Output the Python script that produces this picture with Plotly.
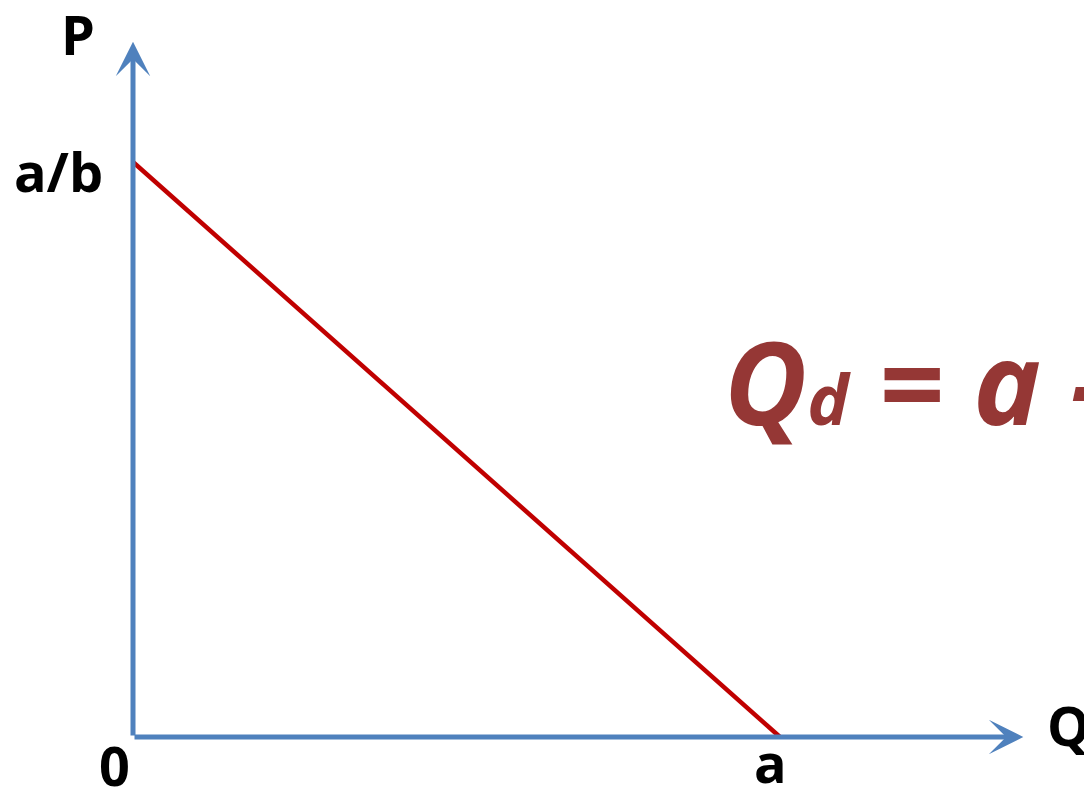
import plotly.graph_objects as go

# demand line endpoints (intercepts): Q = a at P = 0, P = a/b at Q = 0
a = 10.0
b = 1.0
demand_q = [0.0, a]
demand_p = [a / b, 0.0]

# axis extents (arrow tips)
q_max = 13.76
p_max = 12.09

axis_blue = "#4F81BD"
line_red = "#C00000"
eq_red = "#953735"
label_font = dict(family="Open Sans", size=54, color="black", weight="bold")

fig = go.Figure()

fig.add_trace(go.Scatter(
    x=demand_q, y=demand_p,
    mode="lines",
    line=dict(color=line_red, width=4.5),
    hoverinfo="skip",
    showlegend=False,
))

# axes drawn as arrows from the origin
for tip_x, tip_y in [(q_max, 0.0), (0.0, p_max)]:
    fig.add_annotation(
        x=tip_x, y=tip_y, ax=0, ay=0,
        xref="x", yref="y", axref="x", ayref="y",
        text="", showarrow=True,
        arrowhead=3, arrowsize=1.15, arrowwidth=5, arrowcolor=axis_blue,
    )

labels = [
    ("P", -0.85, 12.23, "center"),
    ("a/b", -0.43, 9.84, "right"),
    ("0", -0.28, -0.49, "center"),
    ("a", 9.86, -0.43, "center"),
    ("Q", 14.1, 0.21, "left"),
]
for txt, lx, ly, anchor in labels:
    fig.add_annotation(
        x=lx, y=ly, xref="x", yref="y",
        text=txt, showarrow=False,
        xanchor=anchor, yanchor="middle",
        font=label_font,
    )

fig.add_annotation(
    x=9.1, y=6.2, xref="x", yref="y",
    text="Q<span style='font-size:70px'>d</span> = a - bP", showarrow=False,
    xanchor="left", yanchor="middle",
    font=dict(family="Open Sans", size=114, color=eq_red, weight="bold", style="italic"),
)

# page body has an 8px margin, so the figure is 8px smaller than the window
fig.update_layout(
    width=1084, height=782,
    margin=dict(l=0, r=0, t=0, b=0),
    paper_bgcolor="white",
    plot_bgcolor="white",
    xaxis=dict(range=[-1.932, 14.822], visible=False, fixedrange=True),
    yaxis=dict(range=[-0.922, 12.678], visible=False, fixedrange=True),
    showlegend=False,
)

fig.write_html("out.html")
